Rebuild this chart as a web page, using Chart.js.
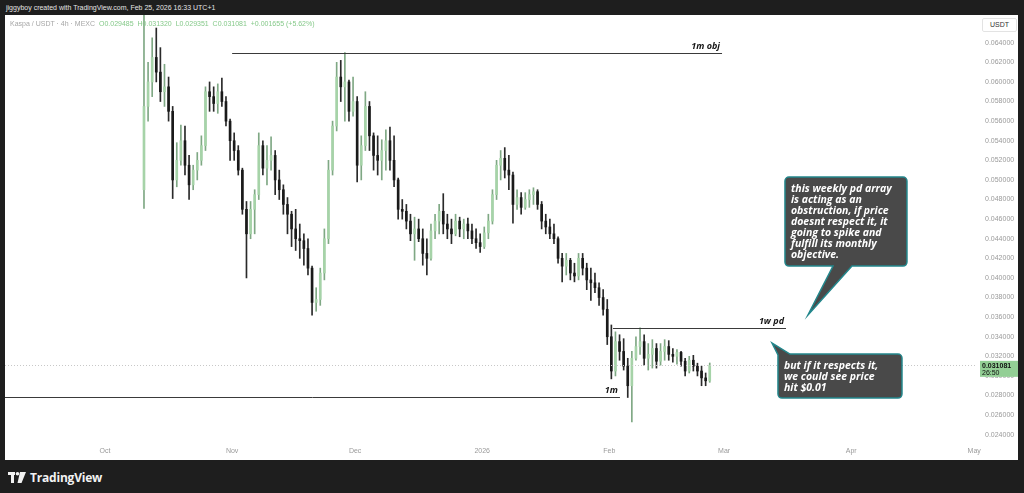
<!DOCTYPE html>
<html>
<head>
<meta charset="utf-8">
<script src="https://cdn.jsdelivr.net/npm/chart.js@4.4.1/dist/chart.umd.min.js"></script>
<style>
  html, body { margin:0; padding:0; width:1024px; height:493px; overflow:hidden; background:#1e1e1e; font-family:"Liberation Sans", Arial, sans-serif; }
  #credit { position:absolute; left:6px; top:3px; font-size:7px; line-height:10px; color:#e4e4e4; white-space:pre; }
  #panel { position:absolute; left:5px; top:15px; width:1013px; height:445px; background:#fff; }
  #chart { position:absolute; left:0; top:0; }
  #legend { position:absolute; left:5px; top:4px; font-size:7px; line-height:9px; color:#a6a6a6; white-space:pre; }
  #legend .v { color:#86c98a; }
  #unit { position:absolute; left:977px; top:3px; width:33px; height:12px; border:1px solid #e3e3e3; border-radius:2px; font-size:7px; line-height:12px; text-align:center; color:#333; background:#fff; }
  #brand { position:absolute; left:8px; top:470px; height:14px; display:flex; align-items:center; }
  #brand span { color:#f2f2f2; font-family:"Open Sans", sans-serif; font-weight:700; font-size:12px; margin-left:4px; letter-spacing:-0.2px; }
</style>
</head>
<body>
<div id="credit">jiggyboy created with TradingView.com, Feb 25, 2026 16:33 UTC+1</div>
<div id="panel">
  <canvas id="chart" width="1013" height="445"></canvas>
  <div id="legend">Kaspa / USDT · 4h · MEXC  <span class="v">O0.029485  H0.031320  L0.029351  C0.031081  +0.001655 (+5.62%)</span></div>
  <div id="unit">USDT</div>
</div>
<div id="brand">
  <svg width="18" height="11" viewBox="0 0 18 11">
    <rect x="0" y="0" width="7" height="3" fill="#f2f2f2"/>
    <rect x="3" y="0" width="3" height="11" fill="#f2f2f2"/>
    <circle cx="9.5" cy="1.8" r="1.8" fill="#f2f2f2"/>
    <polygon points="12,0 18,0 13.5,11 9.5,11" fill="#f2f2f2"/>
  </svg>
  <span>TradingView</span>
</div>

<script>
// days counted from Oct 1, 2025; one candle per day
const firstDay = 9;

const opens = [
  0.0490,0.0575,0.0600,0.0625,0.0610,0.0590,0.0595,0.0570,0.0500,0.0520,
  0.0540,0.0515,0.0495,0.0510,0.0520,0.0535,0.0590,0.0585,0.0578,0.0590,
  0.0580,0.0560,0.0540,0.0530,0.0510,0.0470,0.0445,0.0470,0.0485,0.0535,
  0.0512,0.0520,0.0525,0.0500,0.0490,0.0475,0.0465,0.0450,0.0440,0.0438,
  0.0430,0.0410,0.0375,0.0378,0.0405,0.0440,0.0510,0.0555,0.0605,0.0595,
  0.0600,0.0570,0.0580,0.0515,0.0535,0.0575,0.0545,0.0525,0.0520,0.0530,
  0.0540,0.0520,0.0500,0.0470,0.0468,0.0458,0.0445,0.0450,0.0440,0.0425,
  0.0420,0.0448,0.0458,0.0468,0.0455,0.0450,0.0445,0.0458,0.0450,0.0455,
  0.0448,0.0440,0.0436,0.0432,0.0446,0.0458,0.0485,0.0515,0.0522,0.0510,
  0.0505,0.0475,0.0482,0.0472,0.0480,0.0485,0.0488,0.0475,0.0458,0.0452,
  0.0445,0.0440,0.0420,0.0412,0.0418,0.0405,0.0402,0.0420,0.0410,0.0398,
  0.0395,0.0390,0.0380,0.0368,0.0340,0.0305,0.0335,0.0325,0.0310,0.0290,
  0.0318,0.0330,0.0335,0.0318,0.0322,0.0328,0.0315,0.0325,0.0330,0.0322,
  0.0320,0.0324,0.0315,0.0305,0.0316,0.0310,0.0305,0.0298,0.0295
];
const highs = [
  0.0690,0.0620,0.0645,0.0655,0.0635,0.0618,0.0605,0.0575,0.0538,0.0556,
  0.0555,0.0525,0.0515,0.0528,0.0545,0.0595,0.0600,0.0595,0.0598,0.0604,
  0.0585,0.0562,0.0548,0.0535,0.0512,0.0478,0.0478,0.0490,0.0548,0.0540,
  0.0535,0.0544,0.0530,0.0510,0.0495,0.0482,0.0468,0.0470,0.0455,0.0445,
  0.0440,0.0412,0.0390,0.0410,0.0450,0.0520,0.0560,0.0620,0.0622,0.0630,
  0.0602,0.0605,0.0585,0.0545,0.0590,0.0580,0.0548,0.0545,0.0541,0.0551,
  0.0554,0.0545,0.0502,0.0480,0.0475,0.0465,0.0462,0.0460,0.0450,0.0440,
  0.0455,0.0465,0.0475,0.0486,0.0465,0.0460,0.0465,0.0462,0.0460,0.0461,
  0.0455,0.0450,0.0445,0.0452,0.0465,0.0490,0.0520,0.0530,0.0533,0.0525,
  0.0508,0.0490,0.0487,0.0487,0.0490,0.0492,0.0490,0.0478,0.0465,0.0460,
  0.0455,0.0442,0.0425,0.0425,0.0420,0.0415,0.0425,0.0425,0.0415,0.0410,
  0.0405,0.0395,0.0388,0.0378,0.0352,0.0345,0.0342,0.0338,0.0318,0.0325,
  0.0340,0.0349,0.0342,0.0333,0.0337,0.0333,0.0333,0.0337,0.0336,0.0328,
  0.0327,0.0325,0.0318,0.0320,0.0321,0.0313,0.0310,0.0303,0.03132
];
const lows = [
  0.0471,0.0560,0.0585,0.0600,0.0580,0.0575,0.0560,0.0481,0.0493,0.0515,
  0.0505,0.0480,0.0490,0.0500,0.0515,0.0530,0.0570,0.0570,0.0568,0.0575,
  0.0555,0.0520,0.0520,0.0505,0.0465,0.0400,0.0440,0.0445,0.0480,0.0505,
  0.0495,0.0510,0.0485,0.0480,0.0465,0.0445,0.0432,0.0428,0.0420,0.0413,
  0.0403,0.0362,0.0366,0.0372,0.0398,0.0435,0.0505,0.0550,0.0580,0.0560,
  0.0560,0.0565,0.0498,0.0500,0.0530,0.0530,0.0510,0.0505,0.0500,0.0510,
  0.0510,0.0493,0.0460,0.0460,0.0450,0.0438,0.0418,0.0437,0.0413,0.0403,
  0.0418,0.0440,0.0445,0.0445,0.0440,0.0435,0.0443,0.0442,0.0440,0.0440,
  0.0435,0.0430,0.0426,0.0430,0.0440,0.0455,0.0480,0.0500,0.0502,0.0490,
  0.0456,0.0470,0.0465,0.0470,0.0472,0.0475,0.0470,0.0450,0.0445,0.0440,
  0.0435,0.0415,0.0396,0.0403,0.0398,0.0396,0.0398,0.0403,0.0388,0.0377,
  0.0385,0.0372,0.0362,0.0332,0.0297,0.0300,0.0316,0.0306,0.0278,0.0253,
  0.0316,0.0322,0.0311,0.0306,0.0308,0.0308,0.0311,0.0316,0.0316,0.0314,
  0.0312,0.0310,0.0300,0.0303,0.0305,0.0300,0.0290,0.0290,0.02935
];
const closes = [
  0.0575,0.0600,0.0625,0.0610,0.0590,0.0595,0.0570,0.0500,0.0520,0.0540,
  0.0515,0.0495,0.0510,0.0520,0.0535,0.0590,0.0585,0.0578,0.0590,0.0580,
  0.0560,0.0540,0.0530,0.0510,0.0470,0.0445,0.0470,0.0485,0.0535,0.0512,
  0.0520,0.0525,0.0500,0.0490,0.0475,0.0465,0.0450,0.0440,0.0438,0.0430,
  0.0410,0.0375,0.0378,0.0405,0.0440,0.0510,0.0555,0.0605,0.0595,0.0600,
  0.0570,0.0580,0.0515,0.0535,0.0575,0.0545,0.0525,0.0520,0.0530,0.0540,
  0.0520,0.0500,0.0470,0.0468,0.0458,0.0445,0.0450,0.0440,0.0425,0.0420,
  0.0448,0.0458,0.0468,0.0455,0.0450,0.0445,0.0458,0.0450,0.0455,0.0448,
  0.0440,0.0436,0.0432,0.0446,0.0458,0.0485,0.0515,0.0522,0.0510,0.0505,
  0.0475,0.0482,0.0472,0.0480,0.0485,0.0488,0.0475,0.0458,0.0452,0.0445,
  0.0440,0.0420,0.0412,0.0418,0.0405,0.0402,0.0420,0.0410,0.0398,0.0395,
  0.0390,0.0380,0.0368,0.0340,0.0305,0.0335,0.0325,0.0310,0.0290,0.0318,
  0.0330,0.0335,0.0318,0.0322,0.0328,0.0315,0.0325,0.0330,0.0322,0.0320,
  0.0324,0.0315,0.0305,0.0316,0.0310,0.0305,0.0298,0.0295,0.031081
];

const lastPrice = 0.031081;
const countdown = '26:50';

// time axis labels (day numbers of month starts)
const monthDays = [0, 31, 61, 92, 123, 151, 182, 212];
const monthNames = ['Oct', 'Nov', 'Dec', '2026', 'Feb', 'Mar', 'Apr', 'May'];

// price axis labels
const priceTicks = [0.024, 0.026, 0.028, 0.030, 0.032, 0.034, 0.036, 0.038, 0.040, 0.042,
  0.044, 0.046, 0.048, 0.050, 0.052, 0.054, 0.056, 0.058, 0.060, 0.062, 0.064];

// drawn levels
const levelNames = ['1m obj', '1w pd', '1m'];
const levelValues = [0.0630, 0.0349, 0.02785];
const levelFrom = [31, 123.9, -24.4];
const levelTo = [150.5, 166.1, 125.6];

const upColor = '#a6d3a8';
const downColor = '#1a1a1a';
const upWick = '#7fa884';
const downWick = '#2a2a2a';

const wickData = [], bodyData = [], bodyColors = [], wickColors = [];
for (let i = 0; i < closes.length; i++) {
  const x = firstDay + i + 0.5;
  const up = closes[i] >= opens[i];
  wickData.push({ x: x, y: [lows[i], highs[i]] });
  bodyData.push({ x: x, y: [opens[i], closes[i]] });
  bodyColors.push(up ? upColor : downColor);
  wickColors.push(up ? upWick : downWick);
}

// callouts: tip in data units, box offsets in px from the tip
const callouts = [
  { tipDay: 171.46, tipPrice: 0.036214, box: [-23, -138, 99, -49], base: [25, 44], side: 'bottom',
    lines: ['this weekly pd array', 'is acting as an', 'obstruction, if price', 'doesnt respect it, it',
            'going to spike and', 'fulfill its monthly', 'objective.'] },
  { tipDay: 162.68, tipPrice: 0.033357, box: [6, 11, 130, 55], base: [6, 18], side: 'top',
    lines: ['but if it respects it,', 'we could see price', 'hit $0.01'] }
];

function drawCallout(ctx, c, x, y) {
  const tx = x.getPixelForValue(c.tipDay), ty = y.getPixelForValue(c.tipPrice);
  const L = tx + c.box[0], T = ty + c.box[1], R = tx + c.box[2], B = ty + c.box[3];
  const r = 4;
  ctx.beginPath();
  if (c.side === 'bottom') {
    ctx.moveTo(L + r, T);
    ctx.arcTo(R, T, R, B, r);
    ctx.arcTo(R, B, L, B, r);
    ctx.lineTo(tx + c.base[1], B);
    ctx.lineTo(tx, ty);
    ctx.lineTo(tx + c.base[0], B);
    ctx.arcTo(L, B, L, T, r);
    ctx.arcTo(L, T, R, T, r);
  } else {
    ctx.moveTo(tx + c.base[1], T);
    ctx.arcTo(R, T, R, B, r);
    ctx.arcTo(R, B, L, B, r);
    ctx.arcTo(L, B, L, T, r);
    ctx.lineTo(L, T + 1);
    ctx.lineTo(tx, ty);
  }
  ctx.closePath();
  ctx.fillStyle = '#494949';
  ctx.fill();
  ctx.strokeStyle = '#23878c';
  ctx.lineWidth = 1.5;
  ctx.stroke();
  ctx.fillStyle = '#ffffff';
  ctx.font = 'italic bold 10.5px "Open Sans"';
  ctx.textAlign = 'left';
  ctx.textBaseline = 'middle';
  c.lines.forEach((t, i) => ctx.fillText(t, L + 6, T + 12 + i * 11));
}

const overlay = {
  id: 'overlay',
  afterDatasetsDraw(chart) {
    const { ctx, chartArea: a, scales: { x, y } } = chart;
    ctx.save();
    // last price dotted line
    const lp = Math.round(y.getPixelForValue(lastPrice)) + 0.5;
    ctx.strokeStyle = '#c8c8c8';
    ctx.lineWidth = 1;
    ctx.setLineDash([1, 2]);
    ctx.beginPath(); ctx.moveTo(a.left, lp); ctx.lineTo(a.right, lp); ctx.stroke();
    ctx.setLineDash([]);
    // level lines
    levelNames.forEach((name, i) => {
      const py = Math.round(y.getPixelForValue(levelValues[i])) + 0.5;
      const x0 = Math.max(a.left, x.getPixelForValue(levelFrom[i]));
      const x1 = x.getPixelForValue(levelTo[i]);
      ctx.strokeStyle = '#3a3a3a';
      ctx.beginPath(); ctx.moveTo(x0, py); ctx.lineTo(x1, py); ctx.stroke();
      ctx.fillStyle = '#151515';
      ctx.font = 'italic bold 9px "Open Sans"';
      ctx.textAlign = 'right';
      ctx.textBaseline = 'middle';
      ctx.fillText(name, x1 - 2, py - 7);
    });
    callouts.forEach(c => drawCallout(ctx, c, x, y));
    ctx.restore();
  },
  afterDraw(chart) {
    const { ctx, chartArea: a, scales: { y } } = chart;
    const py = y.getPixelForValue(lastPrice);
    ctx.save();
    ctx.fillStyle = '#93cf95';
    ctx.fillRect(a.right + 5, py - 4.5, chart.width - a.right - 5, 16);
    ctx.fillStyle = '#111';
    ctx.font = 'bold 7px "Liberation Sans"';
    ctx.textAlign = 'left';
    ctx.textBaseline = 'middle';
    ctx.fillText(lastPrice.toFixed(6), a.right + 7, py + 0.5);
    ctx.font = '7px "Liberation Sans"';
    ctx.fillText(countdown, a.right + 7, py + 7.5);
    ctx.restore();
  }
};

new Chart(document.getElementById('chart').getContext('2d'), {
  type: 'bar',
  data: {
    datasets: [
      { label: 'wick', data: wickData, backgroundColor: wickColors, barThickness: 1, grouped: false, order: 2 },
      { label: 'body', data: bodyData, backgroundColor: bodyColors, barThickness: 2, minBarLength: 1, grouped: false, order: 1 }
    ]
  },
  options: {
    responsive: false,
    animation: false,
    devicePixelRatio: 1,
    layout: { padding: 0 },
    plugins: { legend: { display: false }, tooltip: { enabled: false } },
    scales: {
      x: {
        type: 'linear',
        min: -24.4,
        max: 212.2,
        offset: false,
        grid: { display: false, drawTicks: false },
        border: { display: false },
        afterBuildTicks: s => { s.ticks = monthDays.map(v => ({ value: v })); },
        afterFit: s => { s.height = 19; s.paddingLeft = 0; s.paddingRight = 0; },
        ticks: {
          autoSkip: false, maxRotation: 0, padding: 6,
          color: '#9a9a9a', font: { family: 'Liberation Sans', size: 7 },
          callback: (v, i) => monthNames[i]
        }
      },
      y: {
        type: 'linear',
        position: 'right',
        min: 0.02336,
        max: 0.06683,
        grid: { display: false, drawTicks: false },
        border: { display: false },
        afterBuildTicks: s => { s.ticks = priceTicks.map(v => ({ value: v })); },
        afterFit: s => { s.width = 43; s.paddingTop = 0; s.paddingBottom = 0; },
        ticks: {
          autoSkip: false, padding: 10,
          color: '#9a9a9a', font: { family: 'Liberation Sans', size: 7 },
          callback: v => v.toFixed(6)
        }
      }
    }
  },
  plugins: [overlay]
});
</script>
</body>
</html>
